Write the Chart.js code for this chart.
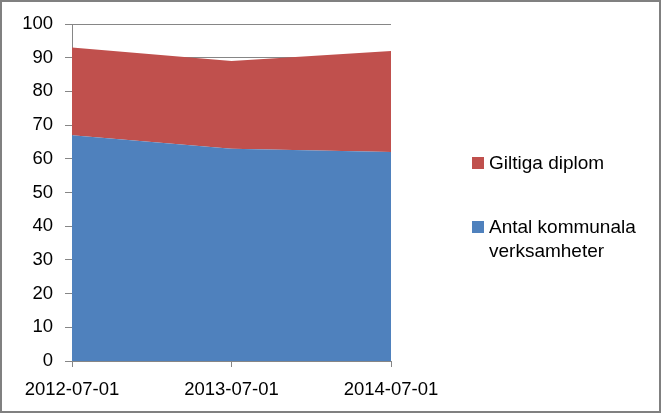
<!DOCTYPE html>
<html><head><meta charset="utf-8">
<script src="https://cdn.jsdelivr.net/npm/chart.js@4"></script>
<style>
html,body{margin:0;padding:0;background:#fff;}
#wrap{position:relative;width:661px;height:413px;box-sizing:border-box;border:2px solid #808080;}
canvas{display:block;}
</style></head><body>
<div id="wrap"><canvas id="c" width="657" height="409"></canvas></div>
<script>
const categories = ['2012-07-01', '2013-07-01', '2014-07-01'];
const antalValues = [67, 63, 62];
const diplomValues = [26, 26, 30];
const seriesLabels = ['Antal kommunala verksamheter', 'Giltiga diplom'];
const yMin = 0, yMax = 100, yStep = 10;

const FONT = {family: '"Liberation Sans", Arial, sans-serif', size: 18.5};
const LEGEND_FONT_SIZE = 19;
const BLUE = '#4F81BD', RED = '#C0504D';

const legendPlugin = {
  id: 'sideLegend',
  afterDraw(chart) {
    const ctx = chart.ctx;
    const ds = chart.data.datasets;
    ctx.save();
    ctx.font = LEGEND_FONT_SIZE + 'px ' + FONT.family;
    ctx.fillStyle = '#000';
    ctx.textBaseline = 'alphabetic';
    ctx.textAlign = 'left';
    const boxX = 470, textX = 487, maxW = 165;
    const items = [ds[1], ds[0]];
    const baselines = [167, 231];
    items.forEach((d, i) => {
      const words = d.label.split(' ');
      const lines = [];
      let cur = '';
      words.forEach(w => {
        const t = cur ? cur + ' ' + w : w;
        if (ctx.measureText(t).width > maxW && cur) { lines.push(cur); cur = w; }
        else cur = t;
      });
      if (cur) lines.push(cur);
      const b = baselines[i];
      ctx.fillStyle = d.backgroundColor;
      ctx.fillRect(boxX, b - 12, 12, 12);
      ctx.fillStyle = '#000';
      lines.forEach((l, k) => ctx.fillText(l, textX, b + k * 24));
    });
    ctx.restore();
  }
};

new Chart(document.getElementById('c'), {
  type: 'line',
  data: {
    labels: categories,
    datasets: [
      {label: seriesLabels[0], data: antalValues, backgroundColor: BLUE, borderColor: BLUE,
       borderWidth: 0, fill: 'origin', pointRadius: 0, tension: 0},
      {label: seriesLabels[1], data: diplomValues, backgroundColor: RED, borderColor: RED,
       borderWidth: 0, fill: '-1', pointRadius: 0, tension: 0}
    ]
  },
  options: {
    responsive: false,
    animation: false,
    layout: {padding: {top: 22, right: 268, left: 0, bottom: 0}},
    plugins: {legend: {display: false}, tooltip: {enabled: false}},
    scales: {
      x: {
        offset: false,
        grid: {drawOnChartArea: false, color: '#868686', tickLength: 6},
        border: {color: '#868686'},
        ticks: {font: FONT, color: '#000', padding: 12, maxRotation: 0, autoSkip: false},
        afterFit(s) { s.height = 50; s.paddingLeft = 0; s.paddingRight = 0; }
      },
      y: {
        stacked: true,
        min: yMin, max: yMax,
        grid: {color: '#868686', tickLength: 7},
        border: {color: '#868686'},
        ticks: {stepSize: yStep, font: FONT, color: '#000', padding: 12},
        afterFit(s) { s.width = 70; s.paddingTop = 0; s.paddingBottom = 0; }
      }
    }
  },
  plugins: [legendPlugin]
});
</script>
</body></html>
